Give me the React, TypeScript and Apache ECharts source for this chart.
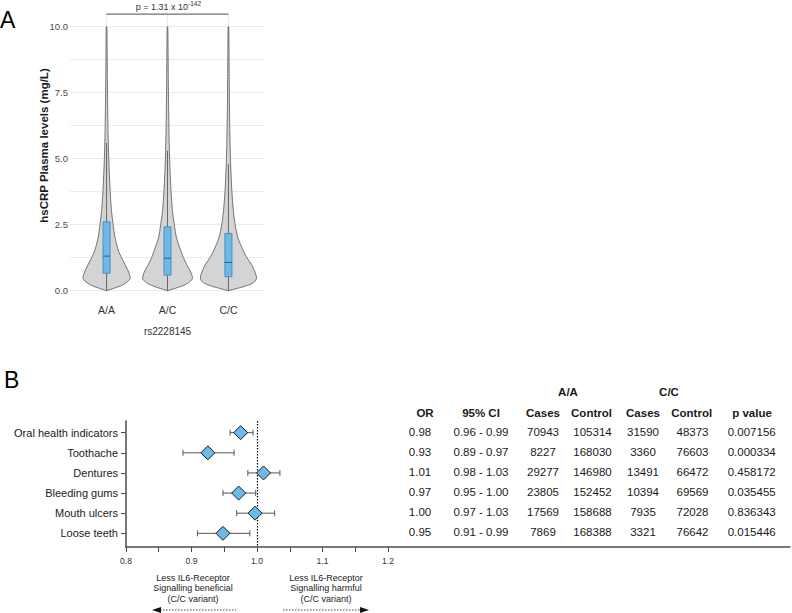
import React, { useEffect, useRef } from "react";
import * as echarts from "echarts";

const FONT = "'Liberation Sans', Arial, Helvetica, sans-serif";

// ---------- Panel A data ----------
const genotypes = ["A/A", "A/C", "C/C"];
const snpName = "rs2228145";
const yTicksA = [0, 2.5, 5, 7.5, 10];
const boxQ1 = [0.66, 0.59, 0.53];
const boxMedian = [1.31, 1.23, 1.07];
const boxQ3 = [2.61, 2.42, 2.17];
const whiskerLow = [0, 0, 0];
const whiskerHigh = [5.6, 5.3, 4.8];
const violinLevels = [0, 0.1, 0.2, 0.3, 0.45, 0.6, 0.8, 1.0, 1.25, 1.5, 2.0, 2.5, 3.0, 3.5, 4.0, 5.0, 6.0, 7.0, 8.0, 9.0, 10.0];
const densityAA = [0, 8, 15, 19.5, 23.5, 23, 21, 18.3, 15, 12, 8.5, 6.6, 5, 4, 3.3, 2.2, 1.5, 1.1, 0.8, 0.6, 0.3];
const densityAC = [0, 8.5, 16, 21, 24.8, 24.3, 22, 19, 16, 13.5, 9, 6.8, 5, 4, 3.2, 2.1, 1.5, 1.1, 0.8, 0.6, 0.3];
const densityCC = [0, 10, 19, 25, 28, 27.5, 25.5, 23, 18.5, 15, 9.5, 6.7, 5, 3.9, 3.1, 2, 1.4, 1, 0.8, 0.6, 0.3];
const densities = [densityAA, densityAC, densityCC];
const pValueMain = "p = 1.31 x 10";
const pValueExp = "-142";
const bracketLevel = 10.48;

// ---------- Panel B data ----------
const outcomes = ["Oral health indicators", "Toothache", "Dentures", "Bleeding gums", "Mouth ulcers", "Loose teeth"];
const orValues = [0.975, 0.925, 1.01, 0.972, 0.997, 0.948];
const ciLow = [0.959, 0.887, 0.986, 0.948, 0.969, 0.909];
const ciHigh = [0.994, 0.965, 1.035, 0.998, 1.027, 0.989];
const orText = ["0.98", "0.93", "1.01", "0.97", "1.00", "0.95"];
const ciText = ["0.96 - 0.99", "0.89 - 0.97", "0.98 - 1.03", "0.95 - 1.00", "0.97 - 1.03", "0.91 - 0.99"];
const aaCases = [70943, 8227, 29277, 23805, 17569, 7869];
const aaControl = [105314, 168030, 146980, 152452, 158688, 168388];
const ccCases = [31590, 3360, 13491, 10394, 7935, 3321];
const ccControl = [48373, 76603, 66472, 69569, 72028, 76642];
const pValues = ["0.007156", "0.000334", "0.458172", "0.035455", "0.836343", "0.015446"];
const xTickLabelsB = [0.8, 0.9, 1.0, 1.1, 1.2];
const xMinorTicksB = [0.8, 0.85, 0.9, 0.95, 1.0, 1.05, 1.1, 1.15, 1.2];
const nullOR = 1.0;
const tableGroups = ["A/A", "C/C"];
const tableHeaders = ["OR", "95% CI", "Cases", "Control", "Cases", "Control", "p value"];

// layout constants (positions only)
const VSCALE = 1 / 60.9;
const BOX_HALF = 0.058;
const tableColX = [420, 481, 543, 592.5, 643, 692.5, 751.7];
const headerColX = [425, 481, 543, 591.5, 643, 691.7, 752];
const groupX = [568, 669];

const txt = (x: number, y: number, text: string, extra: any = {}) => ({
  type: "text",
  x,
  y,
  silent: true,
  style: {
    text,
    fill: extra.fill || "#1a1a1a",
    fontSize: extra.fontSize || 11,
    fontWeight: extra.fontWeight || "normal",
    fontFamily: FONT,
    align: extra.align || "center",
    verticalAlign: extra.verticalAlign || "middle",
    textAlign: extra.align || "center",
    textVerticalAlign: extra.verticalAlign || "middle",
    lineHeight: extra.lineHeight,
  },
  rotation: extra.rotation || 0,
});

export default function App() {
  const ref = useRef<HTMLDivElement>(null);
  useEffect(() => {
    document.body.style.margin = "0";
    if (!ref.current) return;
    const chart = echarts.init(ref.current, undefined, { renderer: "svg" });

    const option: any = {
      animation: false,
      textStyle: { fontFamily: FONT },
      grid: [
        { left: 70, top: 26.7, width: 195, height: 264 },
        { left: 126, top: 421, right: 2, height: 126 },
      ],
      xAxis: [
        {
          gridIndex: 0,
          type: "value",
          min: 0.4,
          max: 3.6,
          axisLine: { show: false },
          axisTick: { show: false },
          splitLine: { show: false },
          axisLabel: {
            customValues: [1, 2, 3],
            formatter: (v: number) => genotypes[Math.round(v) - 1] || "",
            fontSize: 10.5,
            color: "#333",
            margin: 14,
          },
          name: snpName,
          nameLocation: "middle",
          nameGap: 36,
          nameTextStyle: { fontSize: 10, color: "#333" },
        },
        {
          gridIndex: 1,
          type: "value",
          min: 0.8,
          max: 0.8 + 664 / 655,
          axisLine: { show: true, lineStyle: { color: "#4d4d4d", width: 1.5 } },
          axisTick: { show: true, customValues: xMinorTicksB, length: 5, lineStyle: { color: "#4d4d4d", width: 1 } },
          axisLabel: {
            customValues: xTickLabelsB,
            formatter: (v: number) => v.toFixed(1),
            fontSize: 8.5,
            color: "#333",
            margin: 9,
          },
          splitLine: { show: false },
        },
      ],
      yAxis: [
        {
          gridIndex: 0,
          type: "value",
          min: 0,
          max: 10,
          interval: 1.25,
          axisLine: { show: false },
          axisTick: { show: false },
          splitLine: { show: true, lineStyle: { color: "#ebebeb", width: 1 } },
          axisLabel: {
            formatter: (v: number) => (yTicksA.indexOf(v) >= 0 ? v.toFixed(1) : ""),
            fontSize: 9.5,
            color: "#4d4d4d",
            margin: 2,
          },
        },
        {
          gridIndex: 1,
          type: "value",
          inverse: true,
          min: 0.42,
          max: 6.68,
          axisLine: { show: true, lineStyle: { color: "#4d4d4d", width: 1.5 } },
          axisTick: { show: true, customValues: [1, 2, 3, 4, 5, 6], length: 5, lineStyle: { color: "#4d4d4d", width: 1 } },
          axisLabel: {
            customValues: [1, 2, 3, 4, 5, 6],
            formatter: (v: number) => outcomes[Math.round(v) - 1] || "",
            fontSize: 11,
            color: "#1a1a1a",
            margin: 8,
            padding: [0, 0, 4, 0],
          },
          splitLine: { show: false },
        },
      ],
      series: [
        // vertical category grid lines + significance bracket
        {
          type: "custom",
          xAxisIndex: 0,
          yAxisIndex: 0,
          data: [[0]],
          z: 1,
          renderItem: (params: any, api: any) => {
            const children: any[] = [];
            for (let i = 0; i < genotypes.length; i++) {
              const top = api.coord([i + 1, bracketLevel]);
              const bot = api.coord([i + 1, 0]);
              children.push({
                type: "line",
                shape: { x1: top[0], y1: top[1], x2: bot[0], y2: bot[1] },
                style: { stroke: "#ebebeb", lineWidth: 1 },
              });
            }
            const a = api.coord([1, bracketLevel]);
            const b = api.coord([3, bracketLevel]);
            children.push({
              type: "line",
              shape: { x1: a[0], y1: a[1], x2: b[0], y2: b[1] },
              style: { stroke: "#707070", lineWidth: 1.3 },
            });
            const mid = (a[0] + b[0]) / 2;
            children.push(txt(mid + 20.5, a[1] - 7.5, pValueMain, { align: "right", fontSize: 9, fill: "#333" }));
            children.push(txt(mid + 20.5, a[1] - 11, pValueExp, { align: "left", fontSize: 6.5, fill: "#333" }));
            return { type: "group", children };
          },
        },
        // violins with box plots
        {
          type: "custom",
          xAxisIndex: 0,
          yAxisIndex: 0,
          data: genotypes.map((_, i) => [i + 1, boxMedian[i]]),
          z: 3,
          renderItem: (params: any, api: any) => {
            const i = params.dataIndex;
            const xc = i + 1;
            const dens = densities[i];
            const right: number[][] = [];
            const left: number[][] = [];
            for (let k = 0; k < violinLevels.length; k++) {
              right.push(api.coord([xc + dens[k] * VSCALE, violinLevels[k]]));
              left.push(api.coord([xc - dens[k] * VSCALE, violinLevels[k]]));
            }
            const pts = right.concat(left.reverse());
            const wl = api.coord([xc, whiskerLow[i]]);
            const wh = api.coord([xc, whiskerHigh[i]]);
            const q3p = api.coord([xc - BOX_HALF, boxQ3[i]]);
            const q1p = api.coord([xc + BOX_HALF, boxQ1[i]]);
            const mdl = api.coord([xc - BOX_HALF, boxMedian[i]]);
            const mdr = api.coord([xc + BOX_HALF, boxMedian[i]]);
            return {
              type: "group",
              children: [
                {
                  type: "polygon",
                  shape: { points: pts, smooth: 0.25 },
                  style: { fill: "#d4d4d4", stroke: "#555", lineWidth: 0.8 },
                },
                {
                  type: "line",
                  shape: { x1: wl[0], y1: wl[1], x2: wh[0], y2: wh[1] },
                  style: { stroke: "#4a4a4a", lineWidth: 0.8 },
                },
                {
                  type: "rect",
                  shape: { x: q3p[0], y: q3p[1], width: q1p[0] - q3p[0], height: q1p[1] - q3p[1] },
                  style: { fill: "#6cbae8", stroke: "#3d82b8", lineWidth: 0.8 },
                },
                {
                  type: "line",
                  shape: { x1: mdl[0], y1: mdl[1], x2: mdr[0], y2: mdr[1] },
                  style: { stroke: "#2c5f88", lineWidth: 1 },
                },
              ],
            };
          },
        },
        // error bars
        {
          type: "custom",
          xAxisIndex: 1,
          yAxisIndex: 1,
          data: outcomes.map((_, i) => [orValues[i], i + 1]),
          z: 2,
          renderItem: (params: any, api: any) => {
            const i = params.dataIndex;
            const lo = api.coord([ciLow[i], i + 1]);
            const hi = api.coord([ciHigh[i], i + 1]);
            const st = { stroke: "#555", lineWidth: 1 };
            return {
              type: "group",
              children: [
                { type: "line", shape: { x1: lo[0], y1: lo[1], x2: hi[0], y2: hi[1] }, style: st },
                { type: "line", shape: { x1: lo[0], y1: lo[1] - 3, x2: lo[0], y2: lo[1] + 3 }, style: st },
                { type: "line", shape: { x1: hi[0], y1: hi[1] - 3, x2: hi[0], y2: hi[1] + 3 }, style: st },
              ],
            };
          },
        },
        // OR diamonds
        {
          type: "scatter",
          xAxisIndex: 1,
          yAxisIndex: 1,
          z: 4,
          symbol: "diamond",
          symbolSize: [14, 14],
          itemStyle: { color: "#6cbae8", borderColor: "#1a1a1a", borderWidth: 1, opacity: 1 },
          data: outcomes.map((_, i) => [orValues[i], i + 1]),
          markLine: {
            silent: true,
            symbol: "none",
            label: { show: false },
            lineStyle: { type: [1.5, 1.5], color: "#000", width: 1.2 },
            data: [{ xAxis: nullOR }],
            z: 3,
          },
        },
        // table values
        {
          type: "custom",
          xAxisIndex: 1,
          yAxisIndex: 1,
          z: 5,
          data: outcomes.map((_, i) => [0.8, i + 1]),
          renderItem: (params: any, api: any) => {
            const i = params.dataIndex;
            const y = api.coord([0.8, i + 1])[1] - 1;
            const vals = [
              orText[i],
              ciText[i],
              String(aaCases[i]),
              String(aaControl[i]),
              String(ccCases[i]),
              String(ccControl[i]),
              pValues[i],
            ];
            return {
              type: "group",
              children: vals.map((t, k) => txt(tableColX[k], y, t, { fontSize: 11.5 })),
            };
          },
        },
      ],
      graphic: [
        txt(0, 8, "A", { align: "left", verticalAlign: "top", fontSize: 23, fill: "#000" }),
        txt(4, 368, "B", { align: "left", verticalAlign: "top", fontSize: 23, fill: "#000" }),
        txt(44, 145.5, "hsCRP Plasma levels (mg/L)", { fontSize: 11.5, fontWeight: "bold", rotation: Math.PI / 2 }),
        ...tableGroups.map((g, k) => txt(groupX[k], 392.3, g, { fontWeight: "bold", fontSize: 11.5 })),
        ...tableHeaders.map((h, k) => txt(headerColX[k], 412.7, h, { fontWeight: "bold", fontSize: 11.5 })),
        txt(193, 572.5, "Less IL6-Receptor\nSignalling beneficial\n(C/C variant)", {
          verticalAlign: "top",
          fontSize: 9,
          lineHeight: 10.5,
          fill: "#222",
        }),
        txt(326, 572.5, "Less IL6-Receptor\nSignalling harmful\n(C/C variant)", {
          verticalAlign: "top",
          fontSize: 9,
          lineHeight: 10.5,
          fill: "#222",
        }),
        {
          type: "line",
          silent: true,
          shape: { x1: 160, y1: 610, x2: 236, y2: 610 },
          style: { stroke: "#444", lineWidth: 1, lineDash: [1.5, 1.5] },
        },
        {
          type: "polygon",
          silent: true,
          shape: { points: [[152, 610], [161, 607], [161, 613]] },
          style: { fill: "#111" },
        },
        {
          type: "line",
          silent: true,
          shape: { x1: 283, y1: 610, x2: 360, y2: 610 },
          style: { stroke: "#444", lineWidth: 1, lineDash: [1.5, 1.5] },
        },
        {
          type: "polygon",
          silent: true,
          shape: { points: [[369, 610], [360, 607], [360, 613]] },
          style: { fill: "#111" },
        },
      ],
    };
    chart.setOption(option);
    return () => chart.dispose();
  }, []);
  return <div ref={ref} style={{ width: 792, height: 613, background: "#fff" }} />;
}
